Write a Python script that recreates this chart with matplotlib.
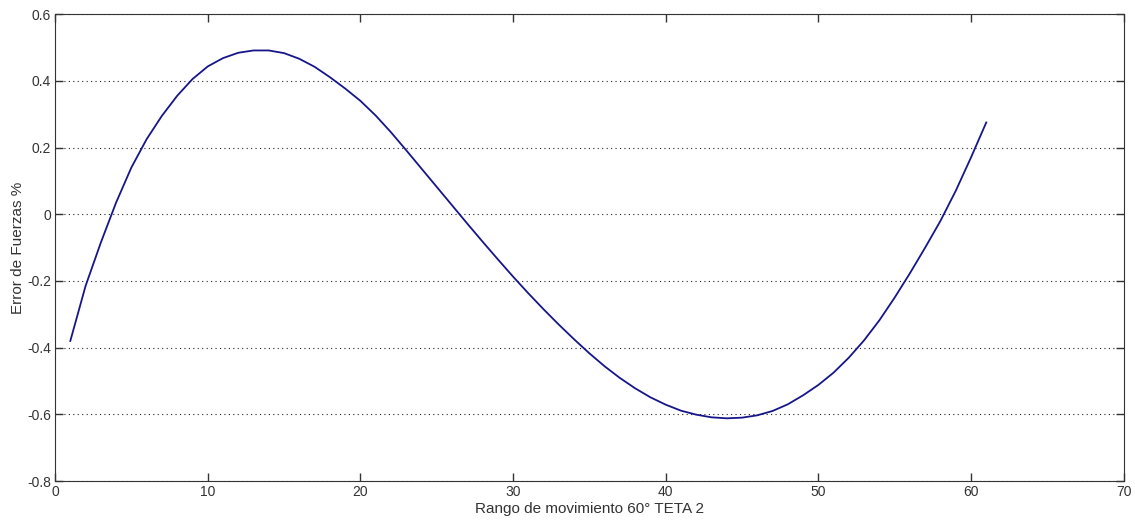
import numpy as np
import matplotlib.pyplot as plt

plt.rcParams['font.family'] = ['Liberation Sans', 'DejaVu Sans']

# angle steps (x) and force error % (y)
theta = [1, 2, 3, 4, 5, 6, 7, 8, 9, 10,
         11, 12, 13, 14, 15, 16, 17, 18, 19, 20,
         21, 22, 23, 24, 25, 26, 27, 28, 29, 30,
         31, 32, 33, 34, 35, 36, 37, 38, 39, 40,
         41, 42, 43, 44, 45, 46, 47, 48, 49, 50,
         51, 52, 53, 54, 55, 56, 57, 58, 59, 60, 61]
error = [-0.38, -0.215, -0.085, 0.035, 0.14, 0.225, 0.295, 0.355, 0.405, 0.443,
         0.468, 0.484, 0.491, 0.491, 0.483, 0.466, 0.442, 0.411, 0.377, 0.34,
         0.296, 0.246, 0.192, 0.137, 0.082, 0.027, -0.028, -0.082, -0.135, -0.187,
         -0.237, -0.285, -0.331, -0.375, -0.417, -0.456, -0.491, -0.522, -0.549, -0.571,
         -0.589, -0.601, -0.609, -0.612, -0.61, -0.603, -0.59, -0.57, -0.543, -0.512,
         -0.475, -0.43, -0.378, -0.318, -0.25, -0.177, -0.1, -0.02, 0.07, 0.17, 0.275]

xticks = [0, 10, 20, 30, 40, 50, 60, 70]
yticks = [-0.8, -0.6, -0.4, -0.2, 0, 0.2, 0.4, 0.6]
ylabels = ['-0.8', '-0.6', '-0.4', '-0.2', '0', '0.2', '0.4', '0.6']

fig = plt.figure(figsize=(11.35, 5.22), dpi=100)
ax = fig.add_axes([0.0485, 0.0785, 0.9415, 0.8945])

ax.plot(theta, error, color='#16168a', linewidth=1.3)

ax.set_xlim(0, 70)
ax.set_ylim(-0.8, 0.6)
ax.set_xticks(xticks)
ax.set_yticks(yticks)
ax.set_yticklabels(ylabels)
ax.tick_params(direction='in', top=True, right=True, length=6, width=1,
               labelsize=10, colors='#333333', pad=3)
for s in ax.spines.values():
    s.set_color('#333333')
ax.yaxis.grid(True, linestyle=(0, (1, 3)), color='#222222', linewidth=0.8)

ax.set_xlabel('Rango de movimiento 60° TETA 2', fontsize=11, color='#333333', labelpad=2)
ax.set_ylabel('Error de Fuerzas %', fontsize=11, color='#333333', labelpad=1)

fig.savefig('out.png', dpi=100)
